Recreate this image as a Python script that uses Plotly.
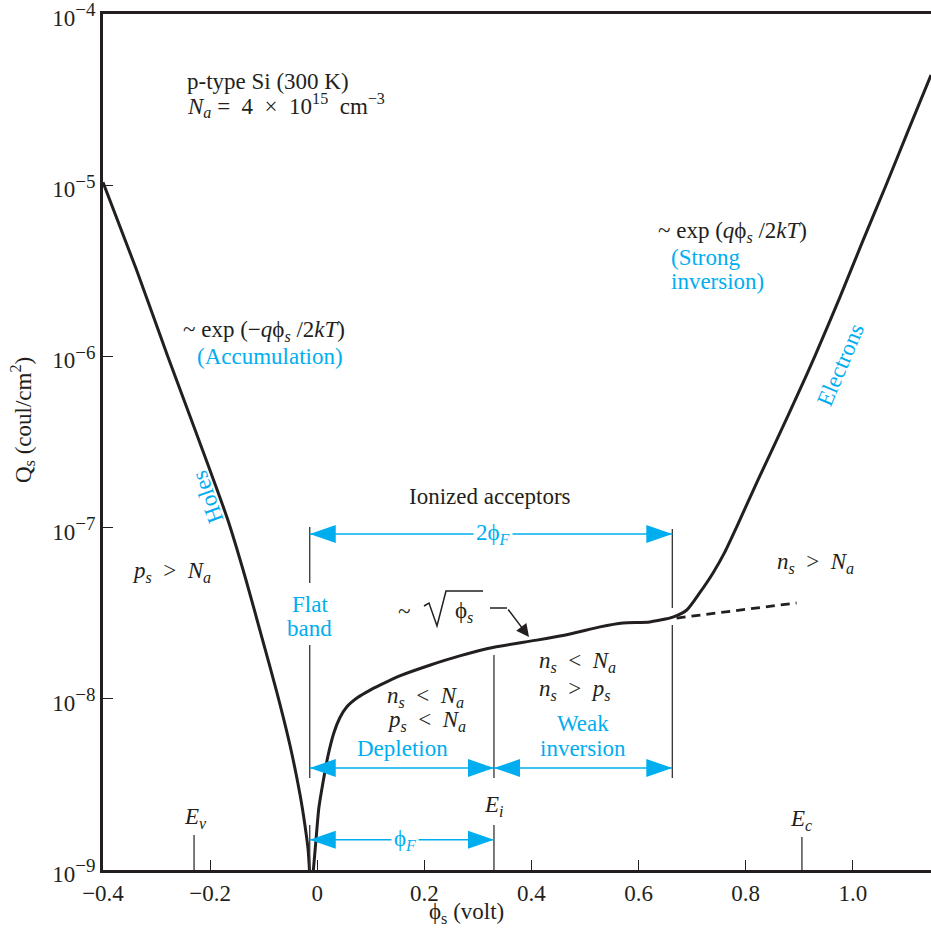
import plotly.graph_objects as go

# ---------------- data ----------------
# accumulation (holes) branch
phi_holes = [-0.400, -0.338, -0.279, -0.219, -0.167, -0.133, -0.103, -0.075, -0.051,
             -0.032, -0.023, -0.017, -0.014]
q_holes = [1.04e-5, 3.24e-6, 1.00e-6, 3.12e-7, 1.11e-7, 4.94e-8, 2.26e-8, 1.08e-8, 5.37e-9,
           2.74e-9, 1.83e-9, 1.31e-9, 9.35e-10]

# depletion / weak inversion / strong inversion branch
phi_main = [-0.008, -0.002, 0.003, 0.011, 0.020, 0.031, 0.042, 0.055, 0.076, 0.098,
            0.117, 0.154, 0.210, 0.266, 0.330, 0.410, 0.472, 0.528, 0.571, 0.621,
            0.664, 0.690, 0.714, 0.739, 0.761, 0.783, 0.823, 0.858, 0.901, 0.929,
            0.976, 1.017, 1.062, 1.103, 1.146]
q_main = [9.35e-10, 1.54e-9, 2.30e-9, 3.27e-9, 4.63e-9, 6.31e-9, 7.72e-9, 8.95e-9, 1.02e-8, 1.12e-8,
          1.20e-8, 1.36e-8, 1.57e-8, 1.78e-8, 2.00e-8, 2.20e-8, 2.39e-8, 2.63e-8, 2.77e-8, 2.81e-8,
          3.00e-8, 3.30e-8, 4.15e-8, 5.43e-8, 7.19e-8, 1.007e-7, 1.90e-7, 3.25e-7, 6.37e-7, 1.00e-6,
          2.22e-6, 4.59e-6, 1.00e-5, 2.07e-5, 4.41e-5]

# ionized-acceptor extrapolation (dashed)
phi_dash = [0.671, 0.895]
q_dash = [2.96e-8, 3.63e-8]

# reference potentials (volt)
FLAT_BAND = -0.014
E_I = 0.330
TWO_PHI_F = 0.663
E_V = -0.230
E_C = 0.905

# levels of the dimension arrows (coul/cm^2)
Q_2PHI = 9.18e-8
Q_DEPL = 3.94e-9
Q_PHIF = 1.50e-9

x_tickvals = [-0.4, -0.2, 0, 0.2, 0.4, 0.6, 0.8, 1.0]
x_ticktext = ["\u22120.4", "\u22120.2", "0", "0.2", "0.4", "0.6", "0.8", "1.0"]
y_tickvals = [1e-9, 1e-8, 1e-7, 1e-6, 1e-5, 1e-4]
y_exps = ["\u22129", "\u22128", "\u22127", "\u22126", "\u22125", "\u22124"]
y_ticktext = [f"10<sup><span style='font-size:19px'>{e}</span></sup>" for e in y_exps]

# ---------------- style ----------------
W, H = 931, 941
ML, MR, MT, MB = 103, 0, 14, 71
XR = [-0.4, 1.146]
YR = [-9.0005, -3.9995]
BLUE = "#00AEEF"
INK = "#231F20"
FONT = "Liberation Serif"
FS = 23
PHI = "\u03d5"
SP = "\u00a0"


def X(px):
    return XR[0] + (px - ML) * (XR[1] - XR[0]) / (W - ML - MR)


def LY(py):
    return YR[1] - (py - MT) * (YR[1] - YR[0]) / (H - MT - MB)


def Q(py):
    return 10 ** LY(py)


def PX(px):
    return (px - ML) / (W - ML - MR)


def PY(py):
    return 1 - (py - MT) / (H - MT - MB)


fig = go.Figure()

fig.add_trace(go.Scatter(x=phi_holes, y=q_holes, mode="lines",
                         line=dict(color=INK, width=3, shape="spline", smoothing=0.6),
                         hoverinfo="skip", showlegend=False))
fig.add_trace(go.Scatter(x=phi_main, y=q_main, mode="lines",
                         line=dict(color=INK, width=3, shape="spline", smoothing=0.6),
                         hoverinfo="skip", showlegend=False))
fig.add_trace(go.Scatter(x=phi_dash, y=q_dash, mode="lines",
                         line=dict(color=INK, width=2.8, dash="9px,6px"),
                         hoverinfo="skip", showlegend=False))

# thin vertical marker lines (with gaps for labels)
vx, vy = [], []
for xv, segs in [
    (FLAT_BAND, [(527, 583), (645, 778), (825, 870)]),
    (E_I, [(655, 778), (825, 870)]),
    (TWO_PHI_F, [(529, 608), (625, 778)]),
    (E_V, [(835, 870)]),
    (E_C, [(837, 870)]),
]:
    for a, b in segs:
        vx += [xv, xv, None]
        vy += [Q(a), Q(b), None]
fig.add_trace(go.Scatter(x=vx, y=vy, mode="lines", line=dict(color="#333333", width=1.3),
                         hoverinfo="skip", showlegend=False))

# blue dimension lines
dims = [(FLAT_BAND, TWO_PHI_F, Q_2PHI), (FLAT_BAND, E_I, Q_DEPL),
        (E_I, TWO_PHI_F, Q_DEPL), (FLAT_BAND, E_I, Q_PHIF)]
bx, by = [], []
for x0, x1, yq in dims:
    bx += [x0, x1, None]
    by += [yq, yq, None]
fig.add_trace(go.Scatter(x=bx, y=by, mode="lines", line=dict(color=BLUE, width=1.5),
                         hoverinfo="skip", showlegend=False))

shapes = []


def head(xv, yq, d):
    shapes.append(dict(type="path", xref="x", yref="y", xsizemode="pixel", ysizemode="pixel",
                       xanchor=xv, yanchor=yq,
                       path=f"M0,0 L{-d*26},9 L{-d*26},-9 Z",
                       fillcolor=BLUE, line=dict(width=0)))


for x0, x1, yq in dims:
    head(x0, yq, -1)
    head(x1, yq, 1)

# radical sign and callout line (decoration, paper coords)
rad = [(424, 606), (429, 603), (437, 626), (446, 591), (483, 591)]
path = "M" + " L".join(f"{PX(a):.5f},{PY(b):.5f}" for a, b in rad)
shapes.append(dict(type="path", xref="paper", yref="paper", path=path,
                   line=dict(color=INK, width=1.5)))
shapes.append(dict(type="line", xref="paper", yref="paper",
                   x0=PX(490), y0=PY(608), x1=PX(507), y1=PY(608),
                   line=dict(color=INK, width=1.5)))

ann = []


def T(text, px, py, color=INK, size=FS, xanchor="left", angle=0, bg=None):
    d = dict(text=text, x=X(px), y=LY(py), xref="x", yref="y", showarrow=False,
             xanchor=xanchor, yanchor="middle", textangle=angle,
             font=dict(family=FONT, size=size, color=color))
    if bg:
        d.update(bgcolor=bg, borderpad=2)
    ann.append(d)


T("p-type Si (300 K)", 185, 81)
T(f"<i>N<sub>a</sub></i>{SP}={SP}{SP}4{SP}{SP}\u00d7{SP}{SP}10<sup>15</sup>{SP}{SP}cm<sup>\u22123</sup>", 185, 105)
T(f"~ exp (\u2212<i>q</i>{PHI}<sub><i>s</i></sub> /2<i>kT</i>)", 181, 331)
T("(Accumulation)", 195, 356, color=BLUE)
T("Holes", 207, 497, color=BLUE, xanchor="center", angle=-110)
T(f"~ exp (<i>q</i>{PHI}<sub><i>s</i></sub> /2<i>kT</i>)", 656, 232)
T("(Strong", 669, 257, color=BLUE)
T("inversion)", 669, 281, color=BLUE)
T("Electrons", 840, 365, color=BLUE, xanchor="center", angle=-67)
T("Ionized acceptors", 490, 496, xanchor="center")
T(f"2{PHI}<sub><i>F</i></sub>", 493, 534, color=BLUE, xanchor="center", bg="white")
T(f"<i>p<sub>s</sub></i>{SP}{SP}>{SP}{SP}<i>N<sub>a</sub></i>", 130, 572)
T(f"<i>n<sub>s</sub></i>{SP}{SP}>{SP}{SP}<i>N<sub>a</sub></i>", 775, 563)
T("Flat", 310, 604, color=BLUE, xanchor="center")
T("band", 309, 628, color=BLUE, xanchor="center")
T("~", 404, 611, xanchor="center")
T(f"{PHI}<sub><i>s</i></sub>", 453, 612)
T(f"<i>n<sub>s</sub></i>{SP}{SP}<{SP}{SP}<i>N<sub>a</sub></i>", 385, 697)
T(f"<i>p<sub>s</sub></i>{SP}{SP}<{SP}{SP}<i>N<sub>a</sub></i>", 385, 721)
T("Depletion", 402, 748, color=BLUE, xanchor="center")
T(f"<i>n<sub>s</sub></i>{SP}{SP}<{SP}{SP}<i>N<sub>a</sub></i>", 537, 662)
T(f"<i>n<sub>s</sub></i>{SP}{SP}>{SP}{SP}<i>p<sub>s</sub></i>", 537, 690)
T("Weak", 583, 723, color=BLUE, xanchor="center")
T("inversion", 583, 748, color=BLUE, xanchor="center")
T("<i>E<sub>v</sub></i>", 195, 818, xanchor="center")
T("<i>E<sub>i</sub></i>", 494, 806, xanchor="center")
T("<i>E<sub>c</sub></i>", 801, 820, xanchor="center")
T(f"{PHI}<sub><i>F</i></sub>", 405, 840, color=BLUE, xanchor="center", bg="white")

# callout arrow for sqrt(phi_s)
ann.append(dict(text="", x=X(529), y=LY(637), xref="x", yref="y",
                ax=X(507), ay=LY(608), axref="x", ayref="y", showarrow=True,
                arrowhead=2, arrowsize=1.7, arrowwidth=1.5, arrowcolor=INK))

# axis titles
ann.append(dict(text=f"{PHI}<sub>s</sub> (volt)", x=PX(466), y=PY(913), xref="paper", yref="paper",
                showarrow=False, xanchor="center", yanchor="middle",
                font=dict(family=FONT, size=FS, color=INK)))
ann.append(dict(text="Q<sub>s</sub> (coul/cm<sup>2</sup>)", x=PX(22), y=PY(420), xref="paper", yref="paper",
                showarrow=False, xanchor="center", yanchor="middle", textangle=-90,
                font=dict(family=FONT, size=FS, color=INK)))

fig.update_layout(
    template="none",
    width=W, height=H, autosize=False,
    margin=dict(l=ML, r=MR, t=MT, b=MB, pad=0, autoexpand=False),
    paper_bgcolor="white", plot_bgcolor="white",
    shapes=shapes, annotations=ann,
    xaxis=dict(range=XR, automargin=False, showgrid=False, zeroline=False, showline=True, mirror=True,
               linecolor=INK, linewidth=3, ticks="inside", ticklen=10, tickwidth=1.3,
               tickcolor=INK, tickvals=x_tickvals, ticktext=x_ticktext, ticklabeloverflow="allow",
               tickfont=dict(family=FONT, size=FS, color=INK)),
    yaxis=dict(type="log", range=YR, automargin=False, showgrid=False, zeroline=False, showline=True,
               mirror=False, linecolor=INK, linewidth=3, ticks="inside", ticklen=10,
               tickwidth=1.3, tickcolor=INK, tickvals=y_tickvals, ticktext=y_ticktext,
               ticklabeloverflow="allow", ticklabelshift=4,
               tickfont=dict(family=FONT, size=FS, color=INK)),
)

fig.write_html("out.html", config={"displayModeBar": False},
               post_script="document.body.style.margin='0';document.documentElement.style.overflow='hidden';")
